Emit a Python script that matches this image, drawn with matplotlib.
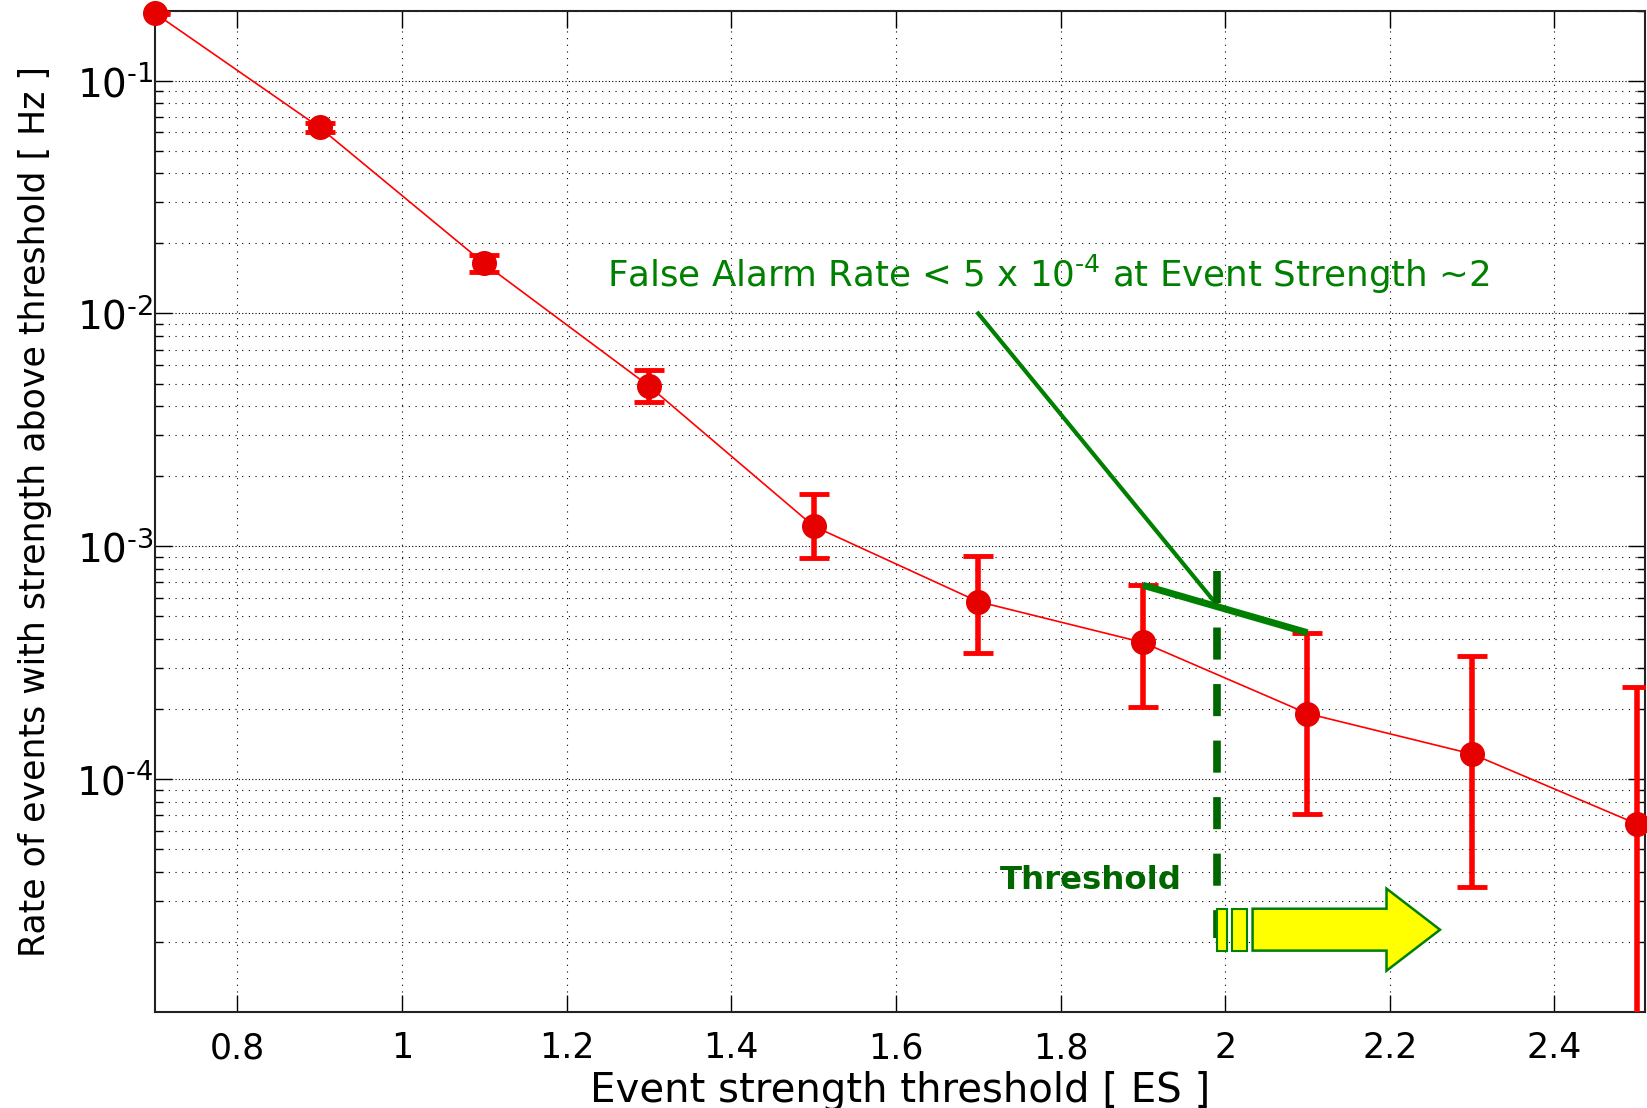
import numpy as np
import matplotlib
matplotlib.use("Agg")
import matplotlib.pyplot as plt
from matplotlib.ticker import LogLocator, NullFormatter, FixedLocator
from matplotlib.patches import Polygon, Rectangle

# data
es = np.array([0.7, 0.9, 1.1, 1.3, 1.5, 1.7, 1.9, 2.1, 2.3, 2.5])
rate = np.array([0.195, 0.063, 0.0164, 0.00488, 0.00122, 0.000578,
                 0.000386, 0.000191, 0.000128, 0.0000641])
rate_hi = np.array([0.197, 0.066, 0.0179, 0.0057, 0.00167, 0.000906,
                    0.00068, 0.000425, 0.000339, 0.000249])
rate_lo = np.array([0.193, 0.060, 0.0151, 0.00417, 0.000887, 0.000348,
                    0.000203, 0.0000708, 0.0000343, 1e-7])

x_ticks = [0.8, 1.0, 1.2, 1.4, 1.6, 1.8, 2.0, 2.2, 2.4]
x_ticklabels = ["0.8", "1", "1.2", "1.4", "1.6", "1.8", "2", "2.2", "2.4"]
y_ticks = [1e-4, 1e-3, 1e-2, 1e-1]
y_ticklabels = [r"$10^{\text{-}4}$", r"$10^{\text{-}3}$",
                r"$10^{\text{-}2}$", r"$10^{\text{-}1}$"]

threshold = 1.99
far_text = r"False Alarm Rate < 5 x $10^{\text{-}4}$ at Event Strength ~2"

red = "#ff0000"
green = "#008000"
dkgreen = "#006600"

fig = plt.figure(figsize=(16.47, 11.08), dpi=100)
ax = fig.add_axes([155 / 1647, (1108 - 1011.7) / 1108,
                   (1645 - 155) / 1647, (1011.7 - 10.7) / 1108])

ax.set_yscale("log")
ax.set_xlim(0.7, 2.51)
ax.set_ylim(1e-5, 0.2)

# grid like matlab (dotted)
ax.grid(True, which="major", axis="x", color="k", lw=0.8, ls=(0, (1, 5)))
ax.grid(True, which="major", axis="y", color="k", lw=0.8, ls=(0, (1, 2)))
ax.grid(True, which="minor", axis="y", color="k", lw=0.8, ls=(0, (1, 5)))
ax.set_axisbelow(True)

# curve + error bars
ax.plot(es, rate, "-", color=red, lw=1.2, zorder=3)
yerr = np.vstack([rate - rate_lo, rate_hi - rate])
ax.errorbar(es, rate, yerr=yerr, fmt="none", ecolor=red, elinewidth=4,
            capsize=11, capthick=3.5, zorder=4)
ax.plot(es, rate, "o", ms=17, color="#e60000", mec="#e60000",
        clip_on=False, zorder=5)

# annotation
ax.plot([es[6], es[7]], [rate_hi[6], rate_hi[7]], color=green, lw=5,
        solid_capstyle="butt", zorder=6)
ax.plot([1.7, threshold], [1e-2, 5.6e-4], color=green, lw=3, zorder=6)
ax.plot([threshold, threshold], [7.85e-4, 2.08e-5], color=dkgreen, lw=5.5,
        dashes=(4.2, 3.2), zorder=6)
ax.text(1.2487, 0.01294, far_text, color=green, fontsize=25.7,
        ha="left", va="baseline")
ax.text(1.726, 3.38e-5, "Threshold", color=dkgreen, fontsize=23.3,
        fontweight="bold", ha="left", va="baseline")

# yellow arrow with two stripes
ylo, yhi = 1.83e-5, 2.77e-5
for x0, x1 in [(1.990, 2.002), (2.0078, 2.026)]:
    ax.add_patch(Rectangle((x0, ylo), x1 - x0, yhi - ylo, fc="#ffff00",
                           ec=green, lw=1.5, zorder=7))
arrow = [(2.0333, ylo), (2.0333, yhi), (2.196, yhi), (2.196, 3.38e-5),
         (2.261, 2.25e-5), (2.196, 1.50e-5), (2.196, ylo)]
ax.add_patch(Polygon(arrow, closed=True, fc="#ffff00", ec=green, lw=1.8,
                     zorder=7))

# ticks
ax.xaxis.set_major_locator(FixedLocator(x_ticks))
ax.set_xticklabels(x_ticklabels)
ax.yaxis.set_major_locator(FixedLocator(y_ticks))
ax.set_yticklabels(y_ticklabels)
ax.yaxis.set_minor_locator(LogLocator(base=10, subs=np.arange(2, 10), numticks=20))
ax.yaxis.set_minor_formatter(NullFormatter())
ax.tick_params(which="both", direction="in", top=True, right=True,
               colors="k", labelsize=25)
ax.tick_params(which="major", length=12, width=1)
ax.tick_params(which="minor", length=6, width=1)
ax.tick_params(axis="x", pad=14)
ax.tick_params(axis="y", pad=1, labelsize=28)
for s in ax.spines.values():
    s.set_linewidth(1.5)
    s.set_color("#222222")

ax.set_xlabel("Event strength threshold [ ES ]", fontsize=29, labelpad=4)
ax.set_ylabel("Rate of events with strength above threshold [ Hz ]",
              fontsize=25)
ax.yaxis.set_label_coords(-0.069, 0.5)

fig.savefig("out.png", dpi=100)
